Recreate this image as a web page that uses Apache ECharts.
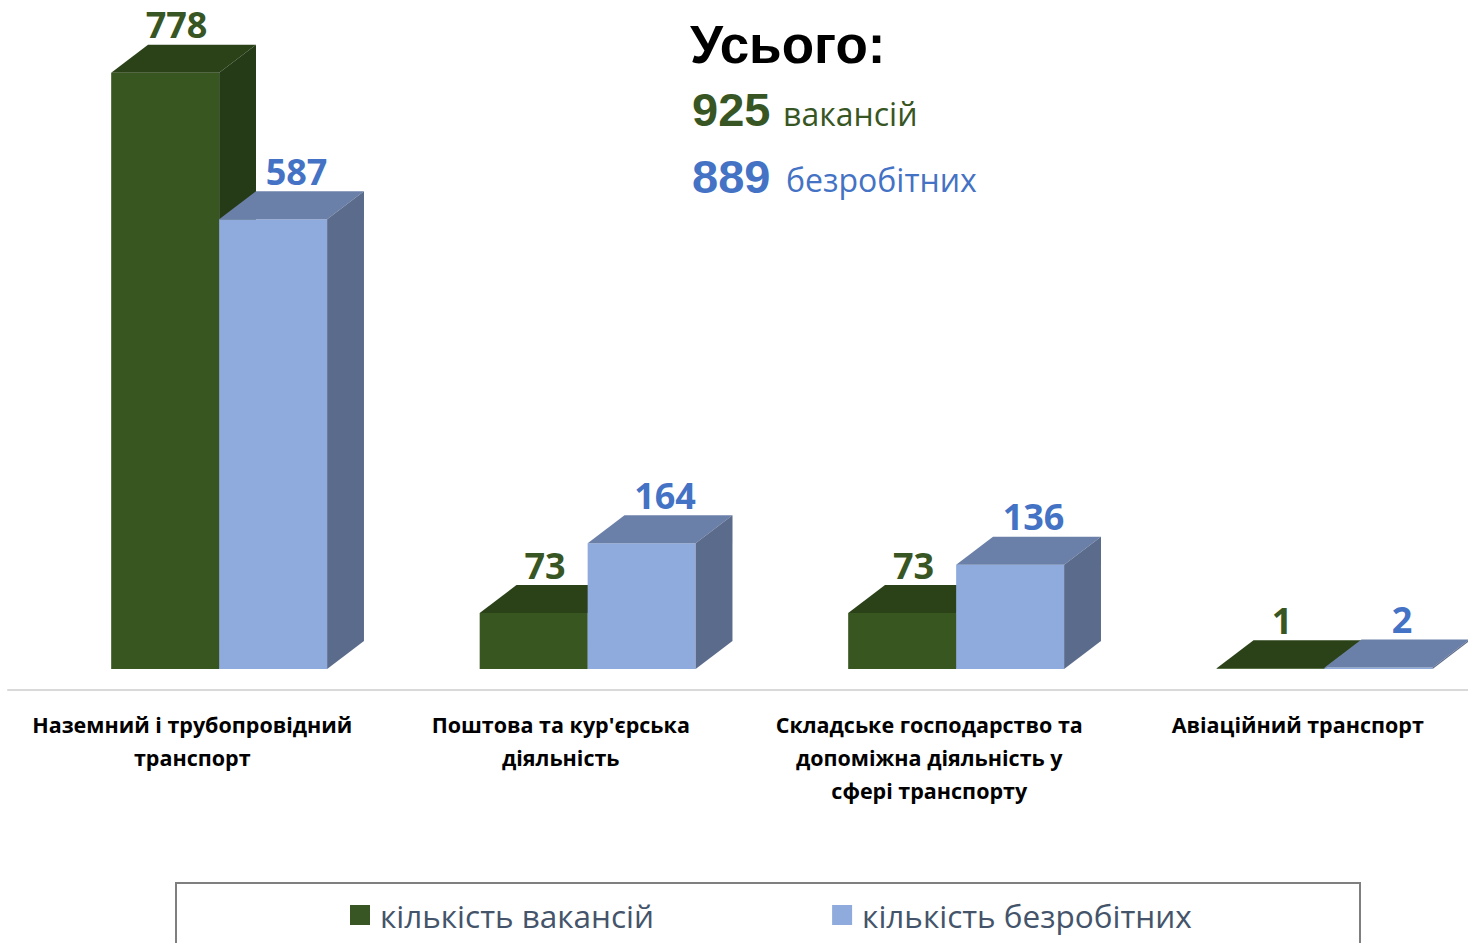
<!DOCTYPE html>
<html>
<head>
<meta charset="utf-8">
<script src="https://cdn.jsdelivr.net/npm/echarts@6/dist/echarts.min.js"></script>
<style>
    html, body { margin: 0; padding: 0; background: #fff; }
    #chart { width: 1468px; height: 943px; }
</style>
</head>
<body>
<div id="chart"></div>
<script>
    // дані
    var categories = [
        'Наземний і трубопровідний\nтранспорт',
        "Поштова та кур'єрська\nдіяльність",
        'Складське господарство та\nдопоміжна діяльність у\nсфері транспорту',
        'Авіаційний транспорт'
    ];
    var seriesNames = ['кількість вакансій', 'кількість безробітних'];
    var vacancies = [778, 73, 73, 1];
    var unemployed = [587, 164, 136, 2];
    var totalTitle = 'Усього:';
    var totals = [925, 889];
    var totalWords = ['вакансій', 'безробітних'];

    var GREEN = '#375623', BLUE = '#4472c4';
    // кольори граней: фронт, верх, бік
    var faces = [
        ['#38561f', '#2b4219', '#253a17'],
        ['#8faadc', '#6b80a8', '#5b6b8c']
    ];
    var labelColors = [GREEN, BLUE];
    var labelShift = [-7, 5];

    function toPairs(arr) {
        return arr.map(function (v, i) { return [i, v]; });
    }

    // 3D стовпчик через custom series
    function render3d(s) {
        return function (params, api) {
            var cat = api.value(0), val = api.value(1);
            var base = api.coord([cat, 0]);
            var top = api.coord([cat, val]);
            var band = api.size([1, 0])[0];
            var w = band * 0.293, dx = band * 0.1, dy = 28;
            var x0 = base[0] - band * 0.22 + s * w;
            var x1 = x0 + w;
            var yb = base[1], yt = top[1];
            var c = faces[s];
            return {
                type: 'group',
                children: [
                    { type: 'polygon', shape: { points: [[x0, yb], [x1, yb], [x1, yt], [x0, yt]] }, style: { fill: c[0] } },
                    { type: 'polygon', shape: { points: [[x0, yt], [x1, yt], [x1 + dx, yt - dy], [x0 + dx, yt - dy]] }, style: { fill: c[1] } },
                    { type: 'polygon', shape: { points: [[x1, yb], [x1 + dx, yb - dy], [x1 + dx, yt - dy], [x1, yt]] }, style: { fill: c[2] } },
                    {
                        type: 'text',
                        style: {
                            text: String(val),
                            x: x0 + w / 2 + dx / 2 + labelShift[s],
                            y: yt - dy - 20,
                            align: 'center',
                            verticalAlign: 'middle',
                            fill: labelColors[s],
                            font: 'bold 36px "Open Sans"'
                        }
                    }
                ]
            };
        };
    }

    var chart = echarts.init(document.getElementById('chart'), null, { renderer: 'svg' });
    var option = {
        backgroundColor: '#fff',
        animation: false,
        grid: { left: 8, width: 1474, top: 56, bottom: 253, outerBoundsMode: 'none', containLabel: false },
        xAxis: {
            type: 'category',
            data: categories,
            axisLine: { onZero: false, lineStyle: { color: '#d9d9d9', width: 2 } },
            axisTick: { show: false },
            axisLabel: {
                interval: 0,
                margin: 18,
                color: '#000',
                fontFamily: 'Open Sans',
                fontWeight: 'bold',
                fontSize: 21.5,
                lineHeight: 33
            }
        },
        yAxis: { type: 'value', min: -27.4, max: 800, show: false },
        legend: {
            left: 350,
            top: 899,
            padding: 0,
            itemWidth: 20,
            itemHeight: 20,
            itemGap: 178,
            icon: 'rect',
            textStyle: { fontFamily: 'Open Sans', fontSize: 31.5, color: '#44546a', padding: [0, 0, 0, 5] },
            data: seriesNames
        },
        graphic: [
            { type: 'rect', shape: { x: 176, y: 883, width: 1184, height: 90 }, style: { fill: 'none', stroke: '#7f7f7f', lineWidth: 2 } },
            { type: 'text', left: 690, top: 18, style: { text: totalTitle, font: 'bold 53px "Liberation Sans"', fill: '#000' } },
            { type: 'text', left: 692, top: 86, style: { text: String(totals[0]), font: 'bold 47px "Liberation Sans"', fill: GREEN } },
            { type: 'text', left: 783, top: 97, style: { text: totalWords[0], font: '32px "Open Sans"', fill: GREEN } },
            { type: 'text', left: 692, top: 153, style: { text: String(totals[1]), font: 'bold 47px "Liberation Sans"', fill: BLUE } },
            { type: 'text', left: 786, top: 163, style: { text: totalWords[1], font: '32px "Open Sans"', fill: BLUE } }
        ],
        series: [
            {
                name: seriesNames[0],
                type: 'custom',
                renderItem: render3d(0),
                itemStyle: { color: GREEN },
                encode: { x: 0, y: 1 },
                data: toPairs(vacancies)
            },
            {
                name: seriesNames[1],
                type: 'custom',
                renderItem: render3d(1),
                itemStyle: { color: '#8faadc' },
                encode: { x: 0, y: 1 },
                data: toPairs(unemployed)
            }
        ]
    };
    chart.setOption(option);
</script>
</body>
</html>
